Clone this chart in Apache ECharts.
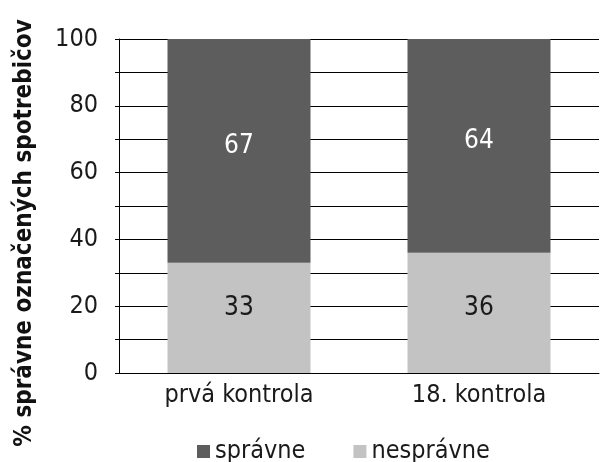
<!DOCTYPE html>
<html>
<head>
<meta charset="utf-8">
<script src="https://cdn.jsdelivr.net/npm/echarts@6/dist/echarts.min.js"></script>
<style>html,body{margin:0;padding:0;background:#fff}#c{width:600px;height:462px}</style>
</head>
<body>
<div id="c"></div>
<script>
const categories = ['prvá kontrola', '18. kontrola'];
const seriesNames = ['správne', 'nesprávne'];
const spravne = [67, 64];
const nespravne = [33, 36];
const yTitle = '% správne označených spotrebičov';

const FONT = "'DejaVu Sans Condensed', 'Liberation Sans Narrow', sans-serif";
const lightOffsets = [[0, -10], [0, -5]];
const chart = echarts.init(document.getElementById('c'), null, {renderer: 'canvas'});
chart.setOption({
  animation: false,
  backgroundColor: '#ffffff',
  grid: {left: 119, right: 1, top: 39, bottom: 89, containLabel: false},
  legend: {
    data: seriesNames,
    left: 192, top: 434,
    icon: 'rect', itemWidth: 13, itemHeight: 13, itemGap: 48,
    textStyle: {fontFamily: FONT, fontSize: 25, color: '#1a1a1a'}
  },
  xAxis: {
    type: 'category', data: categories,
    axisLine: {show: true, lineStyle: {color: '#000', width: 1}},
    axisTick: {show: false},
    axisLabel: {fontFamily: FONT, fontSize: 25, color: '#1a1a1a', margin: 10}
  },
  yAxis: {
    type: 'value', min: 0, max: 100, interval: 10,
    axisLine: {show: true, lineStyle: {color: '#000', width: 1}},
    axisTick: {show: true, length: 4, lineStyle: {color: '#000'}},
    splitLine: {show: true, lineStyle: {color: '#000', width: 1}},
    axisLabel: {
      fontFamily: FONT, fontSize: 25, color: '#1a1a1a', margin: 21,
      formatter: v => (v % 20 === 0 ? String(v) : '')
    }
  },
  graphic: [{
    type: 'text', x: 25, y: 233, rotation: Math.PI / 2,
    style: {text: yTitle, font: "bold 24px " + FONT, fill: '#111', align: 'center', verticalAlign: 'middle'}
  }],
  series: [
    {
      name: seriesNames[1], type: 'bar', stack: 's', barWidth: 143,
      data: nespravne.map((v, i) => ({value: v, label: {offset: lightOffsets[i]}})),
      itemStyle: {color: '#c3c3c3'},
      label: {show: true, position: 'inside', fontFamily: FONT, fontSize: 26, color: '#1a1a1a'}
    },
    {
      name: seriesNames[0], type: 'bar', stack: 's', data: spravne, barWidth: 143,
      itemStyle: {color: '#5d5d5d'},
      label: {show: true, position: 'inside', offset: [0, -5], fontFamily: FONT, fontSize: 26, color: '#ffffff'}
    }
  ]
});
</script>
</body>
</html>
